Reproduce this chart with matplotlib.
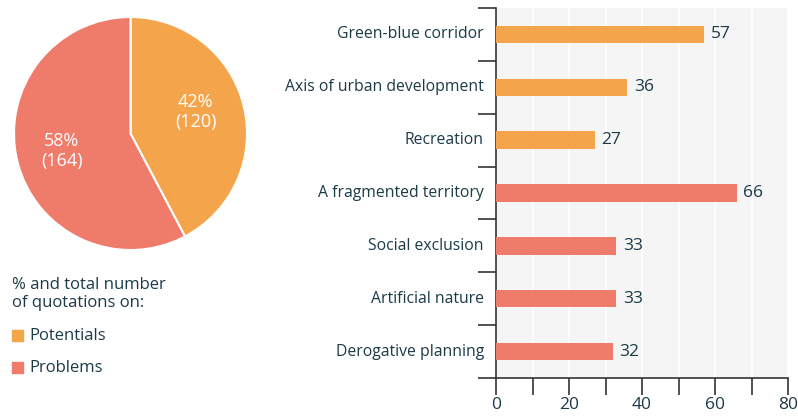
import matplotlib.pyplot as plt
import numpy as np

plt.rcParams['font.family'] = ['Open Sans', 'DejaVu Sans']

ORANGE = '#f4a54c'
SALMON = '#ef7b6a'
INK = '#1b3a48'

# pie: share of quotations
pie_labels = ['Potentials', 'Problems']
pie_counts = [120, 164]
pie_pcts = [42, 58]

# bars: quotations per theme
themes = ['Green-blue corridor', 'Axis of urban development', 'Recreation',
          'A fragmented territory', 'Social exclusion', 'Artificial nature',
          'Derogative planning']
theme_counts = [57, 36, 27, 66, 33, 33, 32]
theme_group = ['Potentials', 'Potentials', 'Potentials',
               'Problems', 'Problems', 'Problems', 'Problems']

colors = {'Potentials': ORANGE, 'Problems': SALMON}

W, H = 798, 417
fig = plt.figure(figsize=(W / 100, H / 100), dpi=100)

# ---- pie ----
cx, cy, r = 130.5, 133.5, 116.5
pax = fig.add_axes([(cx - r) / W, 1 - (cy + r) / H, 2 * r / W, 2 * r / H])
wedges, _ = pax.pie(pie_counts, colors=[colors[k] for k in pie_labels],
                    startangle=90, counterclock=False,
                    wedgeprops=dict(edgecolor='white', linewidth=1.5))
pax.set_xlim(-1, 1)
pax.set_ylim(-1, 1)
pax.set_aspect('equal')
text_pos = [(0.56, 0.185), (-0.59, -0.15)]
for (tx, ty), pct, n in zip(text_pos, pie_pcts, pie_counts):
    pax.text(tx, ty, f'{pct}%\n({n})', color='white', fontsize=13,
             ha='center', va='center', linespacing=1.2)

# ---- legend block ----
fig.text(12 / W, 1 - 294 / H, '% and total number\nof quotations on:',
         fontsize=12, color=INK, va='center', ha='left', linespacing=1.2)
for i, key in enumerate(pie_labels):
    y = 335 + i * 32
    fig.patches.append(plt.Rectangle((12 / W, 1 - (y + 5.5) / H), 11 / W, 11 / H,
                                     transform=fig.transFigure,
                                     color=colors[key]))
    fig.text(29 / W, 1 - (y + 1) / H, key, fontsize=12, color=INK,
             va='center', ha='left')

# ---- bars ----
x0, x1, y0, y1 = 496, 788, 8, 378
ax = fig.add_axes([x0 / W, 1 - y1 / H, (x1 - x0) / W, (y1 - y0) / H])
ax.set_facecolor('#f5f5f5')
pos = np.arange(len(themes))
ax.barh(pos, theme_counts, height=0.33,
        color=[colors[g] for g in theme_group], zorder=3)
for p, v in zip(pos, theme_counts):
    ax.text(v + 1.8, p, str(v), va='center', ha='left',
            fontsize=12.5, color=INK, zorder=4)

ax.set_xlim(0, 80)
ax.set_ylim(len(themes) - 0.5, -0.5)
ax.set_xticks(np.arange(0, 81, 10))
ax.set_xticklabels([str(t) if t % 20 == 0 else '' for t in range(0, 81, 10)])
ax.set_yticks(np.arange(-0.5, len(themes), 1.0))
ax.set_yticklabels([])
for p, name in zip(pos, themes):
    ax.text(-12 / (x1 - x0), p, name, transform=ax.get_yaxis_transform(),
            ha='right', va='center', fontsize=11.3, color=INK)

ax.grid(axis='x', color='white', linewidth=1.2, zorder=1)
ax.tick_params(axis='x', direction='out', length=12, width=1.2,
               color='#333333', labelsize=12.5, labelcolor=INK, pad=2)
ax.tick_params(axis='y', direction='out', length=13, width=1.2,
               color='#333333')
for s in ('top', 'right'):
    ax.spines[s].set_visible(False)
for s in ('left', 'bottom'):
    ax.spines[s].set_color('#333333')
    ax.spines[s].set_linewidth(1.2)

fig.savefig('out.png', dpi=100, facecolor='white')
